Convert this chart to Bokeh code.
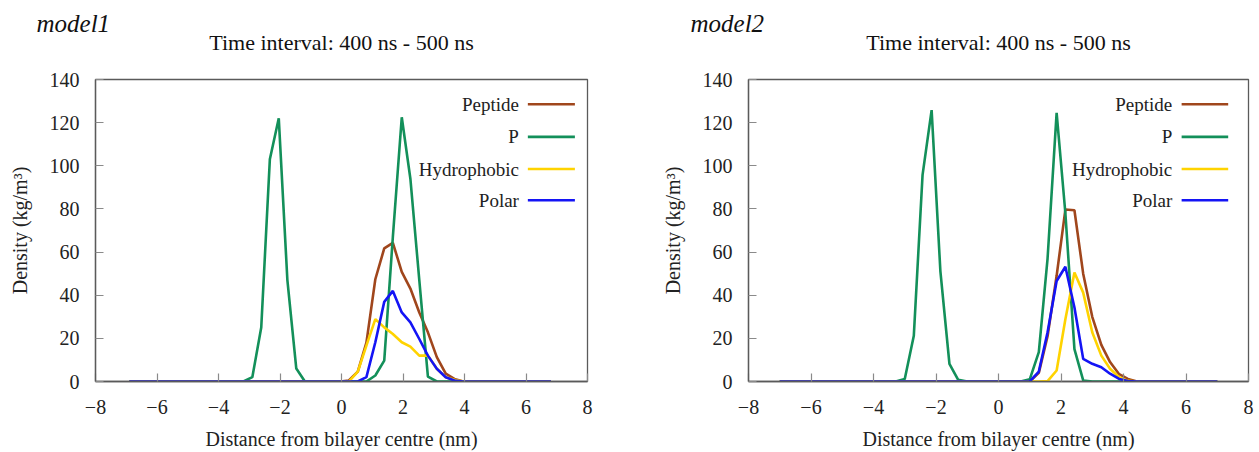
from bokeh.plotting import figure
from bokeh.layouts import row
from bokeh.models import (Range1d, SingleIntervalTicker, CustomJSTickFormatter,
                          Label, ColumnDataSource, Title)
from bokeh.embed import file_html
from bokeh.resources import INLINE

# ---------------- data ----------------
series_names = ["Peptide", "P", "Hydrophobic", "Polar"]
series_colors = ["#A0461C", "#13905A", "#FFD300", "#1414F5"]
panel_titles = ["model1", "model2"]
interval_text = "Time interval: 400 ns - 500 ns"
x_label = "Distance from bilayer centre (nm)"
y_label = "Density (kg/m\u00b3)"

# model1 (49 bins)
x_model1 = [-6.90, -6.61, -6.33, -6.04, -5.76, -5.47, -5.19, -4.90, -4.61, -4.33,
            -4.04, -3.76, -3.47, -3.19, -2.90, -2.61, -2.33, -2.04, -1.76, -1.47,
            -1.19, -0.90, -0.61, -0.33, -0.04, 0.24, 0.53, 0.81, 1.10, 1.39,
            1.67, 1.96, 2.24, 2.53, 2.81, 3.10, 3.39, 3.67, 3.96, 4.24,
            4.53, 4.81, 5.10, 5.39, 5.67, 5.96, 6.24, 6.53, 6.81]
peptide_model1 = [0, 0, 0, 0, 0, 0, 0, 0, 0, 0,
                  0, 0, 0, 0, 0, 0, 0, 0, 0, 0,
                  0, 0, 0, 0, 0, 0.5, 4.6, 18.0, 47.4, 61.7,
                  64.3, 50.8, 43.1, 32.0, 22.8, 11.3, 3.6, 1.2, 0, 0,
                  0, 0, 0, 0, 0, 0, 0, 0, 0]
p_model1 = [0, 0, 0, 0, 0, 0, 0, 0, 0, 0,
            0, 0, 0, 0, 2.0, 25.0, 103.0, 122.0, 47.0, 6.0,
            0, 0, 0, 0, 0, 0, 0, 0, 2.8, 9.7,
            67.0, 122.5, 94.0, 47.0, 2.3, 0, 0, 0, 0, 0,
            0, 0, 0, 0, 0, 0, 0, 0, 0]
hydrophobic_model1 = [0, 0, 0, 0, 0, 0, 0, 0, 0, 0,
                      0, 0, 0, 0, 0, 0, 0, 0, 0, 0,
                      0, 0, 0, 0, 0, 0, 4.6, 16.6, 28.9, 25.1,
                      22.0, 18.2, 16.2, 12.0, 12.0, 5.9, 2.0, 0.8, 0, 0,
                      0, 0, 0, 0, 0, 0, 0, 0, 0]
polar_model1 = [0, 0, 0, 0, 0, 0, 0, 0, 0, 0,
                0, 0, 0, 0, 0, 0, 0, 0, 0, 0,
                0, 0, 0, 0, 0, 0, 0, 2.0, 18.2, 36.9,
                42.0, 32.0, 27.4, 19.7, 12.0, 5.9, 2.0, 0.5, 0, 0,
                0, 0, 0, 0, 0, 0, 0, 0, 0]

# model2 (50 bins)
x_model2 = [-7.00, -6.71, -6.43, -6.14, -5.86, -5.57, -5.29, -5.00, -4.71, -4.43,
            -4.14, -3.86, -3.57, -3.29, -3.00, -2.71, -2.43, -2.14, -1.86, -1.57,
            -1.29, -1.00, -0.71, -0.43, -0.14, 0.14, 0.43, 0.71, 1.00, 1.29,
            1.57, 1.86, 2.14, 2.43, 2.71, 3.00, 3.29, 3.57, 3.86, 4.14,
            4.43, 4.71, 5.00, 5.29, 5.57, 5.86, 6.14, 6.43, 6.71, 7.00]
peptide_model2 = [0, 0, 0, 0, 0, 0, 0, 0, 0, 0,
                  0, 0, 0, 0, 0, 0, 0, 0, 0, 0,
                  0, 0, 0, 0, 0, 0, 0, 0, 0, 4.0,
                  21.0, 49.0, 79.7, 79.4, 50.0, 30.0, 17.0, 9.0, 3.4, 1.2,
                  0, 0, 0, 0, 0, 0, 0, 0, 0, 0]
p_model2 = [0, 0, 0, 0, 0, 0, 0, 0, 0, 0,
            0, 0, 0, 0, 1.2, 21.2, 95.8, 125.8, 51.2, 8.2,
            0.8, 0, 0, 0, 0, 0, 0, 0, 1.0, 13.6,
            57.0, 124.5, 78.0, 15.0, 0.5, 0, 0, 0, 0, 0,
            0, 0, 0, 0, 0, 0, 0, 0, 0, 0]
hydrophobic_model2 = [0, 0, 0, 0, 0, 0, 0, 0, 0, 0,
                      0, 0, 0, 0, 0, 0, 0, 0, 0, 0,
                      0, 0, 0, 0, 0, 0, 0, 0, 0, 0,
                      0.2, 5.1, 28.9, 50.5, 41.2, 22.8, 12.0, 5.9, 2.0, 0.3,
                      0, 0, 0, 0, 0, 0, 0, 0, 0, 0]
polar_model2 = [0, 0, 0, 0, 0, 0, 0, 0, 0, 0,
                0, 0, 0, 0, 0, 0, 0, 0, 0, 0,
                0, 0, 0, 0, 0, 0, 0, 0, 0, 4.6,
                22.8, 46.6, 53.2, 34.3, 10.5, 8.2, 6.6, 3.6, 1.2, 0.2,
                0, 0, 0, 0, 0, 0, 0, 0, 0, 0]

FONT = "Liberation Serif"
AXIS_COL = "#5a5a5a"
MINUS_JS = "return tick < 0 ? '\\u2212' + (-tick) : String(tick);"


def make_panel(x, ys, title, width, border_left, border_right,
               title_offset, interval_offset, legend_text_x, legend_line_x0, legend_line_x1):
    p = figure(width=width, height=452,
               x_range=Range1d(-8, 8), y_range=Range1d(0, 140),
               min_border_left=border_left, min_border_right=border_right,
               min_border_top=79, min_border_bottom=70,
               output_backend="svg", toolbar_location=None)
    p.grid.visible = False
    p.outline_line_color = AXIS_COL
    p.outline_line_width = 1.3
    p.background_fill_color = "white"
    p.border_fill_color = "white"

    p.xaxis.ticker = SingleIntervalTicker(interval=2)
    p.yaxis.ticker = SingleIntervalTicker(interval=20)
    p.xaxis.formatter = CustomJSTickFormatter(code=MINUS_JS)
    for ax in (p.xaxis[0], p.yaxis[0]):
        ax.axis_line_color = AXIS_COL
        ax.axis_line_width = 1.3
        ax.major_tick_line_color = "#8a8a8a"
        ax.major_tick_line_width = 1.2
        ax.major_tick_in = 8
        ax.major_tick_out = 0
        ax.minor_tick_line_color = None
        ax.major_label_text_font = FONT
        ax.major_label_text_font_size = "20px"
        ax.major_label_text_color = "#222222"
        ax.axis_label_text_font = FONT
        ax.axis_label_text_font_size = "20px"
        ax.axis_label_text_font_style = "normal"
        ax.axis_label_text_color = "#222222"
    p.xaxis.major_label_standoff = 14
    p.xaxis.axis_label_standoff = 11
    p.yaxis.major_label_standoff = 12
    p.yaxis.axis_label_standoff = 16
    p.xaxis.axis_label = x_label
    p.yaxis.axis_label = y_label

    for yv, name, col in zip(ys, series_names, series_colors):
        p.line(x, yv, line_color=col, line_width=2.6)

    # legend: labels on the left, line samples on the right
    legend_rows = [128.5, 113.4, 98.5, 84.0]
    for ry, name, col in zip(legend_rows, series_names, series_colors):
        p.add_layout(Label(x=legend_text_x, y=ry, text=name, text_align="right",
                           text_baseline="middle", text_font=FONT,
                           text_font_size="19px", text_color="#222222"))
    src = ColumnDataSource(dict(x0=[legend_line_x0] * 4, x1=[legend_line_x1] * 4,
                                y=legend_rows, c=series_colors))
    p.segment(x0="x0", y0="y", x1="x1", y1="y", line_color="c", line_width=2.6, source=src)

    # titles (first added = nearest to the frame)
    p.add_layout(Title(text=interval_text, align="center", offset=interval_offset,
                       text_font=FONT, text_font_size="22px", text_font_style="normal",
                       text_color="#111111", standoff=50), "above")
    p.add_layout(Title(text=title, align="left", offset=title_offset,
                       text_font=FONT, text_font_size="25px", text_font_style="italic",
                       text_color="#111111", standoff=-69), "above")
    return p


p1 = make_panel(x_model1, [peptide_model1, p_model1, hydrophobic_model1, polar_model1],
                panel_titles[0], 607, 95, 20, -59, 4, 5.77, 6.06, 7.59)
p2 = make_panel(x_model2, [peptide_model2, p_model2, hydrophobic_model2, polar_model2],
                panel_titles[1], 652, 141, 11, -58, 1, 5.56, 5.86, 7.35)

layout = row(p1, p2)
open("out.html", "w", encoding="utf-8").write(file_html(layout, INLINE))
